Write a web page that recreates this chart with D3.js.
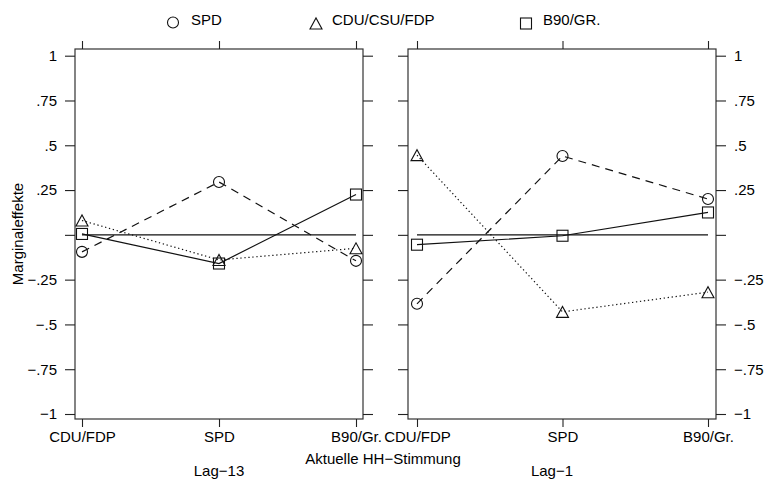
<!DOCTYPE html>
<html><head><meta charset="utf-8">
<script src="https://cdn.jsdelivr.net/npm/d3@7"></script>
<style>body{margin:0;background:#fff}text{font-family:"Liberation Sans",Arial,sans-serif;font-size:15px;fill:#000}</style>
</head><body><svg id="c" width="766" height="483"></svg>
<script>
const categories = ["CDU/FDP", "SPD", "B90/Gr."];
const panelLabels = ["Lag−13", "Lag−1"];
const seriesNames = ["SPD", "CDU/CSU/FDP", "B90/GR."];
const spdLag13 = [-0.095, 0.295, -0.145];
const cduLag13 = [0.08, -0.14, -0.075];
const b90Lag13 = [0.005, -0.16, 0.225];
const spdLag1 = [-0.385, 0.44, 0.2];
const cduLag1 = [0.445, -0.43, -0.32];
const b90Lag1 = [-0.055, -0.005, 0.125];
const yTicks = [1, 0.75, 0.5, 0.25, 0, -0.25, -0.5, -0.75, -1];
const yTickLabels = ["1", ".75", ".5", ".25", "", "−.25", "−.5", "−.75", "−1"];
const xTitle = "Aktuelle HH−Stimmung";
const yTitle = "Marginaleffekte";

const svg = d3.select("#c");
const y = d3.scaleLinear().domain([-1, 1]).range([414, 55.7]);
const boxTop = 49, boxBottom = 419;
const panels = [
  {x0: 75, x1: 363, inner: [82, 356], label: panelLabels[0], labelX: 219, side: "left",
   data: [spdLag13, cduLag13, b90Lag13]},
  {x0: 408, x1: 716, inner: [417, 708], label: panelLabels[1], labelX: 552, side: "right",
   data: [spdLag1, cduLag1, b90Lag1]}
];
const dashes = ["8,6", "1.3,2.7", null];
const stroke = "#111";

function marker(g, type, cx, cy) {
  if (type === 0) g.append("circle").attr("cx", cx).attr("cy", cy).attr("r", 5.5);
  else if (type === 1) g.append("path").attr("d", `M${cx - 6},${cy + 5.5}L${cx + 6},${cy + 5.5}L${cx},${cy - 5.5}Z`);
  else g.append("rect").attr("x", cx - 5.5).attr("y", cy - 5.5).attr("width", 11).attr("height", 11);
}

panels.forEach(p => {
  const x = d3.scalePoint().domain(categories).range(p.inner);
  const g = svg.append("g");
  g.append("rect").attr("x", p.x0).attr("y", boxTop).attr("width", p.x1 - p.x0).attr("height", boxBottom - boxTop)
    .attr("fill", "none").attr("stroke", "#333").attr("stroke-width", 1.2);
  const axL = d3.axisLeft(y).tickValues(yTicks).tickSize(10).tickPadding(8)
    .tickFormat((d, i) => p.side === "left" ? yTickLabels[i] : "");
  const axR = d3.axisRight(y).tickValues(yTicks).tickSize(10).tickPadding(8)
    .tickFormat((d, i) => p.side === "right" ? yTickLabels[i] : "");
  [[axL, p.x0], [axR, p.x1]].forEach(([ax, xx]) => {
    const a = g.append("g").attr("transform", `translate(${xx},0)`).call(ax);
    a.select(".domain").remove();
    a.selectAll("line").attr("stroke", "#222").attr("stroke-width", 1.1);
    a.selectAll("text").attr("font-size", 15).attr("font-family", "Liberation Sans, Arial, sans-serif").attr("fill", "#000");
  });
  const axB = d3.axisBottom(x).tickSize(8).tickPadding(4);
  const b = g.append("g").attr("transform", `translate(0,${boxBottom})`).call(axB);
  b.select(".domain").remove();
  b.selectAll("line").attr("stroke", "#222").attr("stroke-width", 1.1);
  b.selectAll("text").attr("font-size", 15).attr("font-family", "Liberation Sans, Arial, sans-serif").attr("fill", "#000");
  const axT = d3.axisTop(x).tickSize(8).tickFormat("");
  const t = g.append("g").attr("transform", `translate(0,${boxTop})`).call(axT);
  t.select(".domain").remove();
  t.selectAll("line").attr("stroke", "#222").attr("stroke-width", 1.1);
  g.append("line").attr("x1", x(categories[0])).attr("x2", x(categories[2]))
    .attr("y1", y(0)).attr("y2", y(0)).attr("stroke", stroke).attr("stroke-width", 1.1);
  p.data.forEach((vals, si) => {
    const line = d3.line().x((d, i) => x(categories[i])).y(d => y(d));
    g.append("path").attr("d", line(vals)).attr("fill", "none").attr("stroke", stroke)
      .attr("stroke-width", 1.2).attr("stroke-dasharray", dashes[si]);
    const mg = g.append("g").attr("fill", "none").attr("stroke", stroke).attr("stroke-width", 1.1);
    vals.forEach((v, i) => marker(mg, si, x(categories[i]), y(v)));
  });
  svg.append("text").attr("x", p.labelX).attr("y", 476).attr("text-anchor", "middle").text(p.label);
});

svg.append("text").attr("x", 383).attr("y", 464).attr("text-anchor", "middle").text(xTitle);
svg.append("text").attr("transform", "translate(23,234) rotate(-90)").attr("text-anchor", "middle").text(yTitle);

const legend = [{mx: 173, my: 22.5, tx: 191}, {mx: 316, my: 23.5, tx: 332}, {mx: 526, my: 23.5, tx: 543}];
const lg = svg.append("g");
seriesNames.forEach((n, i) => {
  const mg = lg.append("g").attr("fill", "none").attr("stroke", stroke).attr("stroke-width", 1.1);
  marker(mg, i, legend[i].mx, legend[i].my);
  lg.append("text").attr("x", legend[i].tx).attr("y", 25).text(n);
});
</script></body></html>
